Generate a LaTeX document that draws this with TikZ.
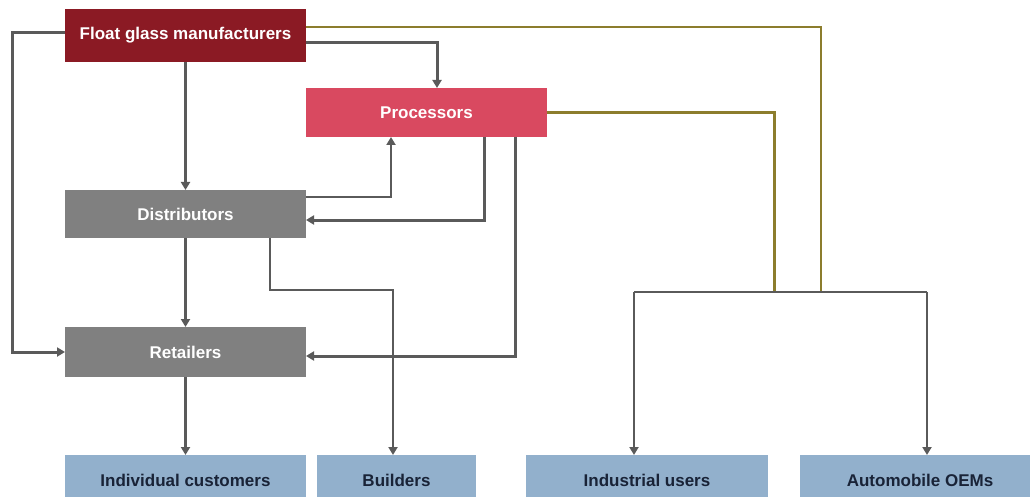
\documentclass[tikz,border=0pt]{standalone}
\usepackage{fontspec}
\setmainfont{Liberation Sans}
\usetikzlibrary{arrows.meta}
\definecolor{fgmred}{RGB}{139,26,36}
\definecolor{procred}{RGB}{217,73,96}
\definecolor{boxgray}{RGB}{128,128,128}
\definecolor{userblue}{RGB}{146,176,204}
\definecolor{usertext}{RGB}{25,35,55}
\definecolor{linegray}{RGB}{90,90,90}
\definecolor{linkolive}{RGB}{140,125,45}

\begin{document}
\begin{tikzpicture}[x=1pt, y=-1pt,
box/.style = {minimum width=#1, minimum height=50pt,
            inner sep=0pt, outer sep=0pt, text=white,
            font=\fontsize{17}{20}\selectfont\bfseries},
box/.default = 241pt,   % width of the boxes
user/.style = {box=#1, fill=userblue, text=usertext},
flow/.style = {draw=linegray, line width=#1, -{Triangle[width=9pt,length=8pt]}},
flow/.default = 3pt,
link/.style = {draw=linkolive, line width=#1},
link/.default = 3pt
                ]
    \useasboundingbox (0,0) rectangle (1030,497);

    \node[box, fill=fgmred, minimum height=53pt] at (185.5,35.5) (fgm) {Float glass manufacturers};
    \node[box, fill=procred, minimum height=49pt] at (426.5,112.5) (proc) {Processors};
    \node[box, fill=boxgray, minimum height=48pt] at (185.5,214) (dist) {Distributors};
    \node[box, fill=boxgray] at (185.5,352) (ret) {Retailers};

    \foreach \x/\w/\n/\t in {185.5/241pt/indiv/Individual customers,
                             396.5/159pt/build/Builders,
                             647/242pt/indus/Industrial users,
                             920/241pt/auto/Automobile OEMs}
        \node[user=\w] at (\x,480) (\n) {\t};

    \coordinate (bk) at (393,290);
    \coordinate (j1) at (774,292);
    \coordinate (j2) at (821,292);
    \coordinate (ja) at (634,292);
    \coordinate (jb) at (927,292);

    \draw[flow] (fgm.west |- 0,33) -| ([xshift=-53pt]ret.west) -- (ret.west);
    \draw[flow] (fgm.east |- 0,43) -| (proc.north -| 437,0);
    \draw[flow] (fgm) -- (dist);
    \draw[flow] (dist) -- (ret);
    \draw[flow] (ret) -- (indiv);
    \draw[flow=2pt] (dist.east |- 0,197) -| (proc.south -| 391,0);
    \draw[flow] (proc.south -| 484,0) |- (dist.east |- 0,220);
    \draw[flow] (proc.south -| 515,0) |- (ret.east |- 0,356);
    \draw[flow=2.5pt] (dist.south -| 270,0) |- (bk) -- (build.north -| bk);

    \draw[link=2pt] (fgm.east |- 0,27) -| (j2);
    \draw[link] (proc.east) -| (j1);
    \draw[linegray, line width=1.5pt] (ja) -- (jb);
    \draw[flow=2pt] (ja) -- (indus.north -| ja);
    \draw[flow=2pt] (jb) -- (auto.north -| jb);
\end{tikzpicture}
\end{document}
